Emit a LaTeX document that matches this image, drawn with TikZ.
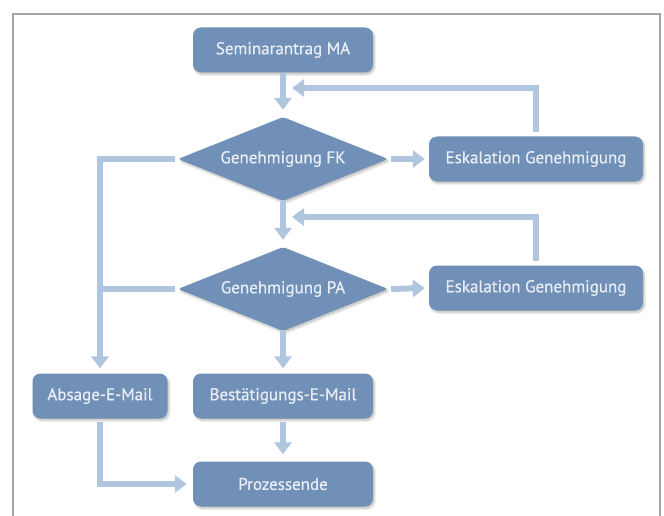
\documentclass[tikz,border=0pt]{standalone}
\usepackage{fontspec}
\setmainfont{PT Sans}[BoldFeatures={FakeBold=0}]
\newfontfamily\lblfont{PT Sans}[FakeBold=0.7]
\usetikzlibrary{shapes.geometric,arrows.meta,shadows.blur}
\definecolor{nodefill}{RGB}{112,144,183}
\definecolor{linecol}{RGB}{175,198,222}
\definecolor{txtcol}{RGB}{232,237,244}
\definecolor{framecol}{RGB}{165,165,165}
\tikzset{
  procbox/.style={rectangle, rounded corners=8pt, fill=nodefill, text=txtcol,
    minimum height=45pt, inner sep=0pt, font=\lblfont\fontsize{17}{19}\selectfont,
    blur shadow={shadow blur steps=6, shadow xshift=1.5pt, shadow yshift=-2pt, shadow opacity=25}},
  decbox/.style={diamond, aspect=2.5, fill=nodefill, text=txtcol, rounded corners=3pt,
    minimum width=210pt, minimum height=84pt, inner sep=0pt, font=\lblfont\fontsize{17}{19}\selectfont,
    blur shadow={shadow blur steps=6, shadow xshift=1.5pt, shadow yshift=-2pt, shadow opacity=25}},
  conn/.style={draw=linecol, line width=6pt},
  arr/.style={conn, -{Triangle[length=12pt,width=17pt]}},
}
\begin{document}
\begin{tikzpicture}[x=1pt,y=-1pt]
\useasboundingbox (0,0) rectangle (664,516);
\draw[framecol, line width=2pt] (13,520) -- (13,14) -- (660,14) -- (660,520);

\node[procbox, minimum width=180pt] (sem) at (283,50) {Seminarantrag MA};
\node[decbox] (fk) at (283,159) {Genehmigung FK};
\node[procbox, minimum width=214pt] (esk1) at (536,159) {Eskalation Genehmigung};
\node[decbox] (pa) at (283,289) {Genehmigung PA};
\node[procbox, minimum width=214pt] (esk2) at (536,288) {Eskalation Genehmigung};
\node[procbox, minimum width=135pt] (abs) at (100,396) {Absage-E-Mail};
\node[procbox, minimum width=180pt] (best) at (283,396) {Bestätigungs-E-Mail};
\node[procbox, minimum width=180pt] (proz) at (283,484) {Prozessende};

\coordinate (m1) at (292,88);
\coordinate (m2) at (292,217);

\draw[arr, shorten >=7pt] (sem.south) -- (fk.north);
\draw[arr, shorten <=4pt] (esk1.north) |- (m1);
\draw[arr, shorten <=3pt, shorten >=4pt] (fk.east) -- (esk1.west);
\draw[arr, shorten >=7pt] (fk.south) -- (pa.north);
\draw[arr, shorten <=4pt] (esk2.north) |- (m2);
\draw[arr, shorten <=3pt, shorten >=4pt] (pa.east) -- (esk2.west);
\draw[arr, shorten <=3pt, shorten >=5pt] (fk.west) -| (abs.north);
\draw[conn, shorten <=3pt] (pa.west) -- (abs.north |- pa.west);
\draw[arr, shorten >=5pt] (pa.south) -- (best.north);
\draw[arr, shorten <=3pt, shorten >=7pt] (best.south) -- (proz.north);
\draw[arr, shorten <=3pt, shorten >=6pt] (abs.south) |- (proz.west);
\end{tikzpicture}
\end{document}
